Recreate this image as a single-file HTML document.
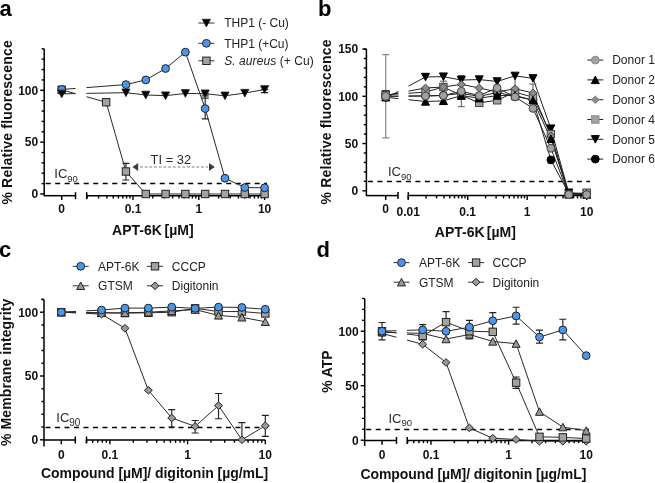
<!DOCTYPE html><html><head><meta charset="utf-8"><style>html,body{margin:0;padding:0;background:#fff;}svg{display:block;will-change:transform;}</style></head><body><svg width="655" height="483" viewBox="0 0 655 483">
<rect width="655" height="483" fill="#fff"/>
<defs><clipPath id="ca"><rect x="0" y="0" width="75.5" height="483"/><rect x="86.5" y="0" width="570" height="483"/></clipPath><clipPath id="cb"><rect x="0" y="0" width="398.5" height="483"/><rect x="408.5" y="0" width="300" height="483"/></clipPath><clipPath id="cc"><rect x="0" y="0" width="76" height="483"/><rect x="86.2" y="0" width="570" height="483"/></clipPath><clipPath id="cd"><rect x="0" y="0" width="396.5" height="483"/><rect x="407" y="0" width="300" height="483"/></clipPath></defs>
<text x="-0.6" y="16" font-family='"Liberation Sans", sans-serif' font-weight="bold" font-size="22" fill="#000">a</text>
<line x1="44.2" y1="48.82" x2="44.2" y2="196.2" stroke="#000" stroke-width="1.5"/>
<line x1="40.2" y1="194" x2="44.2" y2="194" stroke="#000" stroke-width="1.4"/>
<text x="38.2" y="198.3" text-anchor="end" font-family='"Liberation Sans", sans-serif' font-weight="bold" font-size="12" fill="#111">0</text>
<line x1="40.2" y1="142.15" x2="44.2" y2="142.15" stroke="#000" stroke-width="1.4"/>
<text x="38.2" y="146.45" text-anchor="end" font-family='"Liberation Sans", sans-serif' font-weight="bold" font-size="12" fill="#111">50</text>
<line x1="40.2" y1="90.3" x2="44.2" y2="90.3" stroke="#000" stroke-width="1.4"/>
<text x="38.2" y="94.6" text-anchor="end" font-family='"Liberation Sans", sans-serif' font-weight="bold" font-size="12" fill="#111">100</text>
<line x1="41.6" y1="183.63" x2="44.2" y2="183.63" stroke="#000" stroke-width="1.4"/>
<line x1="41.6" y1="173.26" x2="44.2" y2="173.26" stroke="#000" stroke-width="1.4"/>
<line x1="41.6" y1="162.89" x2="44.2" y2="162.89" stroke="#000" stroke-width="1.4"/>
<line x1="41.6" y1="152.52" x2="44.2" y2="152.52" stroke="#000" stroke-width="1.4"/>
<line x1="41.6" y1="131.78" x2="44.2" y2="131.78" stroke="#000" stroke-width="1.4"/>
<line x1="41.6" y1="121.41" x2="44.2" y2="121.41" stroke="#000" stroke-width="1.4"/>
<line x1="41.6" y1="111.04" x2="44.2" y2="111.04" stroke="#000" stroke-width="1.4"/>
<line x1="41.6" y1="100.67" x2="44.2" y2="100.67" stroke="#000" stroke-width="1.4"/>
<line x1="41.6" y1="79.93" x2="44.2" y2="79.93" stroke="#000" stroke-width="1.4"/>
<line x1="41.6" y1="69.56" x2="44.2" y2="69.56" stroke="#000" stroke-width="1.4"/>
<line x1="41.6" y1="59.19" x2="44.2" y2="59.19" stroke="#000" stroke-width="1.4"/>
<line x1="41.6" y1="48.82" x2="44.2" y2="48.82" stroke="#000" stroke-width="1.4"/>
<line x1="44.2" y1="195.7" x2="75.5" y2="195.7" stroke="#000" stroke-width="1.5"/>
<line x1="75.5" y1="192.2" x2="75.5" y2="199.2" stroke="#000" stroke-width="1.5"/>
<line x1="61.7" y1="195.7" x2="61.7" y2="200" stroke="#000" stroke-width="1.5"/>
<text x="61.7" y="213.3" text-anchor="middle" font-family='"Liberation Sans", sans-serif' font-weight="bold" font-size="12" fill="#111">0</text>
<line x1="86.7" y1="195.7" x2="264.6" y2="195.7" stroke="#000" stroke-width="1.5"/>
<line x1="86.7" y1="192.2" x2="86.7" y2="199.2" stroke="#000" stroke-width="1.5"/>
<line x1="87.01" y1="195.7" x2="87.01" y2="198.5" stroke="#000" stroke-width="1.4"/>
<line x1="98.59" y1="195.7" x2="98.59" y2="198.5" stroke="#000" stroke-width="1.4"/>
<line x1="106.82" y1="195.7" x2="106.82" y2="198.5" stroke="#000" stroke-width="1.4"/>
<line x1="113.19" y1="195.7" x2="113.19" y2="198.5" stroke="#000" stroke-width="1.4"/>
<line x1="118.4" y1="195.7" x2="118.4" y2="198.5" stroke="#000" stroke-width="1.4"/>
<line x1="122.81" y1="195.7" x2="122.81" y2="198.5" stroke="#000" stroke-width="1.4"/>
<line x1="126.62" y1="195.7" x2="126.62" y2="198.5" stroke="#000" stroke-width="1.4"/>
<line x1="129.99" y1="195.7" x2="129.99" y2="198.5" stroke="#000" stroke-width="1.4"/>
<line x1="133" y1="195.7" x2="133" y2="200" stroke="#000" stroke-width="1.4"/>
<line x1="152.81" y1="195.7" x2="152.81" y2="198.5" stroke="#000" stroke-width="1.4"/>
<line x1="164.39" y1="195.7" x2="164.39" y2="198.5" stroke="#000" stroke-width="1.4"/>
<line x1="172.62" y1="195.7" x2="172.62" y2="198.5" stroke="#000" stroke-width="1.4"/>
<line x1="178.99" y1="195.7" x2="178.99" y2="198.5" stroke="#000" stroke-width="1.4"/>
<line x1="184.2" y1="195.7" x2="184.2" y2="198.5" stroke="#000" stroke-width="1.4"/>
<line x1="188.61" y1="195.7" x2="188.61" y2="198.5" stroke="#000" stroke-width="1.4"/>
<line x1="192.42" y1="195.7" x2="192.42" y2="198.5" stroke="#000" stroke-width="1.4"/>
<line x1="195.79" y1="195.7" x2="195.79" y2="198.5" stroke="#000" stroke-width="1.4"/>
<line x1="198.8" y1="195.7" x2="198.8" y2="200" stroke="#000" stroke-width="1.4"/>
<line x1="218.61" y1="195.7" x2="218.61" y2="198.5" stroke="#000" stroke-width="1.4"/>
<line x1="230.19" y1="195.7" x2="230.19" y2="198.5" stroke="#000" stroke-width="1.4"/>
<line x1="238.42" y1="195.7" x2="238.42" y2="198.5" stroke="#000" stroke-width="1.4"/>
<line x1="244.79" y1="195.7" x2="244.79" y2="198.5" stroke="#000" stroke-width="1.4"/>
<line x1="250" y1="195.7" x2="250" y2="198.5" stroke="#000" stroke-width="1.4"/>
<line x1="254.41" y1="195.7" x2="254.41" y2="198.5" stroke="#000" stroke-width="1.4"/>
<line x1="258.22" y1="195.7" x2="258.22" y2="198.5" stroke="#000" stroke-width="1.4"/>
<line x1="261.59" y1="195.7" x2="261.59" y2="198.5" stroke="#000" stroke-width="1.4"/>
<line x1="264.6" y1="195.7" x2="264.6" y2="200" stroke="#000" stroke-width="1.4"/>
<text x="133" y="213.3" text-anchor="middle" font-family='"Liberation Sans", sans-serif' font-weight="bold" font-size="12" fill="#111">0.1</text>
<text x="198.8" y="213.3" text-anchor="middle" font-family='"Liberation Sans", sans-serif' font-weight="bold" font-size="12" fill="#111">1</text>
<text x="264.6" y="213.3" text-anchor="middle" font-family='"Liberation Sans", sans-serif' font-weight="bold" font-size="12" fill="#111">10</text>
<text transform="translate(11.8,204.6) rotate(-90)" x="0" y="0" font-family='"Liberation Sans", sans-serif' font-weight="bold" font-size="14" fill="#111" textLength="164.4" lengthAdjust="spacing">% Relative fluorescence</text>
<text x="112.1" y="234.8" font-family='"Liberation Sans", sans-serif' font-weight="bold" font-size="14" fill="#111">APT-6K</text>
<text x="164.6" y="234.8" font-family='"Liberation Sans", sans-serif' font-weight="bold" font-size="14" fill="#111">[µM]</text>
<line x1="45.7" y1="183.5" x2="267" y2="183.5" stroke="#000" stroke-width="1.4" stroke-dasharray="5 4.5"/>
<text x="54.3" y="178.2" font-family='"Liberation Sans", sans-serif' font-size="13" fill="#2a2a2a">IC<tspan font-size="9.5" dy="3.6">90</tspan></text>
<path d="M61.7 93.83L125.95 92.69L145.75 94.97L165.56 95.69L185.37 93.41L205.18 93.72L224.98 95.8L244.79 93.1L264.6 89.47" fill="none" stroke="#2a2a2a" stroke-width="1.0" clip-path="url(#ca)"/>
<path d="M205.18 93.72V95.8M201.68 93.72H208.68M201.68 95.8H208.68" stroke="#222" stroke-width="1.15" fill="none"/>
<path d="M264.6 89.47V92.58M261.1 89.47H268.1M261.1 92.58H268.1" stroke="#222" stroke-width="1.15" fill="none"/>
<path d="M61.7 89.47L125.95 84.6L145.75 79.93L165.56 68.52L185.37 52.14L205.18 108.55L224.98 178.24L244.79 187.57L264.6 187.78" fill="none" stroke="#2a2a2a" stroke-width="1.0" clip-path="url(#ca)"/>
<path d="M205.18 98.08V118.92M201.68 98.08H208.68M201.68 118.92H208.68" stroke="#222" stroke-width="1.15" fill="none"/>
<path d="M244.79 185.7V189.85M241.29 185.7H248.29M241.29 189.85H248.29" stroke="#222" stroke-width="1.15" fill="none"/>
<path d="M61.7 89.78L106.14 102.23L125.95 171.5L145.75 194L165.56 194L185.37 194L205.18 194L224.98 194L244.79 194L264.6 194" fill="none" stroke="#2a2a2a" stroke-width="1.0" clip-path="url(#ca)"/>
<path d="M125.95 163.41V180M122.45 163.41H129.45M122.45 180H129.45" stroke="#222" stroke-width="1.15" fill="none"/>
<line x1="140" y1="167" x2="208" y2="167" stroke="#a8a8a8" stroke-width="1.7" stroke-dasharray="2.8 1.9"/>
<path d="M132.4 167L138.2 163.1L138.2 170.9Z" fill="#3a3a3a"/>
<path d="M214.8 167L209 163.1L209 170.9Z" fill="#3a3a3a"/>
<text x="150.6" y="164.2" font-family='"Liberation Sans", sans-serif' font-size="12.9" fill="#2a2a2a">TI = 32</text>
<rect x="58" y="86.08" width="7.4" height="7.4" fill="#a2a2a2" stroke="#222" stroke-width="1.0"/>
<rect x="102.44" y="98.53" width="7.4" height="7.4" fill="#a2a2a2" stroke="#222" stroke-width="1.0"/>
<rect x="122.25" y="167.8" width="7.4" height="7.4" fill="#a2a2a2" stroke="#222" stroke-width="1.0"/>
<rect x="142.05" y="190.3" width="7.4" height="7.4" fill="#a2a2a2" stroke="#222" stroke-width="1.0"/>
<rect x="161.86" y="190.3" width="7.4" height="7.4" fill="#a2a2a2" stroke="#222" stroke-width="1.0"/>
<rect x="181.67" y="190.3" width="7.4" height="7.4" fill="#a2a2a2" stroke="#222" stroke-width="1.0"/>
<rect x="201.48" y="190.3" width="7.4" height="7.4" fill="#a2a2a2" stroke="#222" stroke-width="1.0"/>
<rect x="221.28" y="190.3" width="7.4" height="7.4" fill="#a2a2a2" stroke="#222" stroke-width="1.0"/>
<rect x="241.09" y="190.3" width="7.4" height="7.4" fill="#a2a2a2" stroke="#222" stroke-width="1.0"/>
<rect x="260.9" y="190.3" width="7.4" height="7.4" fill="#a2a2a2" stroke="#222" stroke-width="1.0"/>
<circle cx="61.7" cy="89.47" r="3.9" fill="#4b97ee" stroke="#222" stroke-width="1.0"/>
<circle cx="125.95" cy="84.6" r="3.9" fill="#4b97ee" stroke="#222" stroke-width="1.0"/>
<circle cx="145.75" cy="79.93" r="3.9" fill="#4b97ee" stroke="#222" stroke-width="1.0"/>
<circle cx="165.56" cy="68.52" r="3.9" fill="#4b97ee" stroke="#222" stroke-width="1.0"/>
<circle cx="185.37" cy="52.14" r="3.9" fill="#4b97ee" stroke="#222" stroke-width="1.0"/>
<circle cx="205.18" cy="108.55" r="3.9" fill="#4b97ee" stroke="#222" stroke-width="1.0"/>
<circle cx="224.98" cy="178.24" r="3.9" fill="#4b97ee" stroke="#222" stroke-width="1.0"/>
<circle cx="244.79" cy="187.57" r="3.9" fill="#4b97ee" stroke="#222" stroke-width="1.0"/>
<circle cx="264.6" cy="187.78" r="3.9" fill="#4b97ee" stroke="#222" stroke-width="1.0"/>
<path d="M57.7 90.13L65.7 90.13L61.7 97.63Z" fill="#000" stroke="#222" stroke-width="1.0" stroke-linejoin="miter"/>
<path d="M121.95 88.99L129.95 88.99L125.95 96.49Z" fill="#000" stroke="#222" stroke-width="1.0" stroke-linejoin="miter"/>
<path d="M141.75 91.27L149.75 91.27L145.75 98.77Z" fill="#000" stroke="#222" stroke-width="1.0" stroke-linejoin="miter"/>
<path d="M161.56 91.99L169.56 91.99L165.56 99.49Z" fill="#000" stroke="#222" stroke-width="1.0" stroke-linejoin="miter"/>
<path d="M181.37 89.71L189.37 89.71L185.37 97.21Z" fill="#000" stroke="#222" stroke-width="1.0" stroke-linejoin="miter"/>
<path d="M201.18 90.02L209.18 90.02L205.18 97.52Z" fill="#000" stroke="#222" stroke-width="1.0" stroke-linejoin="miter"/>
<path d="M220.98 92.1L228.98 92.1L224.98 99.6Z" fill="#000" stroke="#222" stroke-width="1.0" stroke-linejoin="miter"/>
<path d="M240.79 89.4L248.79 89.4L244.79 96.9Z" fill="#000" stroke="#222" stroke-width="1.0" stroke-linejoin="miter"/>
<path d="M260.6 85.77L268.6 85.77L264.6 93.27Z" fill="#000" stroke="#222" stroke-width="1.0" stroke-linejoin="miter"/>
<line x1="198.4" y1="23" x2="214.4" y2="23" stroke="#333" stroke-width="1"/>
<path d="M202.4 19.3L210.4 19.3L206.4 26.8Z" fill="#000" stroke="#222" stroke-width="1.0" stroke-linejoin="miter"/>
<text x="224.2" y="27.3" font-family='"Liberation Sans", sans-serif' font-size="12" fill="#222">THP1 (- Cu)</text>
<line x1="198.4" y1="43.3" x2="214.4" y2="43.3" stroke="#333" stroke-width="1"/>
<circle cx="206.4" cy="43.3" r="3.9" fill="#4b97ee" stroke="#222" stroke-width="1.0"/>
<text x="224.2" y="47.6" font-family='"Liberation Sans", sans-serif' font-size="12" fill="#222">THP1 (+Cu)</text>
<line x1="198.4" y1="60.8" x2="214.4" y2="60.8" stroke="#333" stroke-width="1"/>
<rect x="202.7" y="57.1" width="7.4" height="7.4" fill="#a2a2a2" stroke="#222" stroke-width="1.0"/>
<text x="224.2" y="65.1" font-family='"Liberation Sans", sans-serif' font-size="12" fill="#222" textLength="89.5" lengthAdjust="spacing"><tspan font-style="italic">S. aureus</tspan> (+ Cu)</text>
<text x="318" y="16" font-family='"Liberation Sans", sans-serif' font-weight="bold" font-size="22" fill="#000">b</text>
<line x1="366.4" y1="49.05" x2="366.4" y2="196.1" stroke="#000" stroke-width="1.5"/>
<line x1="362.4" y1="190.8" x2="366.4" y2="190.8" stroke="#000" stroke-width="1.4"/>
<text x="358.2" y="195.1" text-anchor="end" font-family='"Liberation Sans", sans-serif' font-weight="bold" font-size="12" fill="#111">0</text>
<line x1="362.4" y1="143.55" x2="366.4" y2="143.55" stroke="#000" stroke-width="1.4"/>
<text x="358.2" y="147.85" text-anchor="end" font-family='"Liberation Sans", sans-serif' font-weight="bold" font-size="12" fill="#111">50</text>
<line x1="362.4" y1="96.3" x2="366.4" y2="96.3" stroke="#000" stroke-width="1.4"/>
<text x="358.2" y="100.6" text-anchor="end" font-family='"Liberation Sans", sans-serif' font-weight="bold" font-size="12" fill="#111">100</text>
<line x1="362.4" y1="49.05" x2="366.4" y2="49.05" stroke="#000" stroke-width="1.4"/>
<text x="358.2" y="53.35" text-anchor="end" font-family='"Liberation Sans", sans-serif' font-weight="bold" font-size="12" fill="#111">150</text>
<line x1="363.8" y1="181.35" x2="366.4" y2="181.35" stroke="#000" stroke-width="1.4"/>
<line x1="363.8" y1="171.9" x2="366.4" y2="171.9" stroke="#000" stroke-width="1.4"/>
<line x1="363.8" y1="162.45" x2="366.4" y2="162.45" stroke="#000" stroke-width="1.4"/>
<line x1="363.8" y1="153" x2="366.4" y2="153" stroke="#000" stroke-width="1.4"/>
<line x1="363.8" y1="134.1" x2="366.4" y2="134.1" stroke="#000" stroke-width="1.4"/>
<line x1="363.8" y1="124.65" x2="366.4" y2="124.65" stroke="#000" stroke-width="1.4"/>
<line x1="363.8" y1="115.2" x2="366.4" y2="115.2" stroke="#000" stroke-width="1.4"/>
<line x1="363.8" y1="105.75" x2="366.4" y2="105.75" stroke="#000" stroke-width="1.4"/>
<line x1="363.8" y1="86.85" x2="366.4" y2="86.85" stroke="#000" stroke-width="1.4"/>
<line x1="363.8" y1="77.4" x2="366.4" y2="77.4" stroke="#000" stroke-width="1.4"/>
<line x1="363.8" y1="67.95" x2="366.4" y2="67.95" stroke="#000" stroke-width="1.4"/>
<line x1="363.8" y1="58.5" x2="366.4" y2="58.5" stroke="#000" stroke-width="1.4"/>
<line x1="363.8" y1="49.05" x2="366.4" y2="49.05" stroke="#000" stroke-width="1.4"/>
<line x1="366.4" y1="195.6" x2="398" y2="195.6" stroke="#000" stroke-width="1.5"/>
<line x1="398" y1="192.1" x2="398" y2="199.1" stroke="#000" stroke-width="1.5"/>
<line x1="385.7" y1="195.6" x2="385.7" y2="199.9" stroke="#000" stroke-width="1.5"/>
<text x="385.7" y="213.4" text-anchor="middle" font-family='"Liberation Sans", sans-serif' font-weight="bold" font-size="12" fill="#111">0</text>
<line x1="408.3" y1="195.6" x2="586.7" y2="195.6" stroke="#000" stroke-width="1.5"/>
<line x1="408.3" y1="192.1" x2="408.3" y2="199.1" stroke="#000" stroke-width="1.5"/>
<line x1="408.2" y1="195.6" x2="408.2" y2="199.9" stroke="#000" stroke-width="1.4"/>
<line x1="426.11" y1="195.6" x2="426.11" y2="198.4" stroke="#000" stroke-width="1.4"/>
<line x1="436.59" y1="195.6" x2="436.59" y2="198.4" stroke="#000" stroke-width="1.4"/>
<line x1="444.02" y1="195.6" x2="444.02" y2="198.4" stroke="#000" stroke-width="1.4"/>
<line x1="449.79" y1="195.6" x2="449.79" y2="198.4" stroke="#000" stroke-width="1.4"/>
<line x1="454.5" y1="195.6" x2="454.5" y2="198.4" stroke="#000" stroke-width="1.4"/>
<line x1="458.48" y1="195.6" x2="458.48" y2="198.4" stroke="#000" stroke-width="1.4"/>
<line x1="461.93" y1="195.6" x2="461.93" y2="198.4" stroke="#000" stroke-width="1.4"/>
<line x1="464.98" y1="195.6" x2="464.98" y2="198.4" stroke="#000" stroke-width="1.4"/>
<line x1="467.7" y1="195.6" x2="467.7" y2="199.9" stroke="#000" stroke-width="1.4"/>
<line x1="485.61" y1="195.6" x2="485.61" y2="198.4" stroke="#000" stroke-width="1.4"/>
<line x1="496.09" y1="195.6" x2="496.09" y2="198.4" stroke="#000" stroke-width="1.4"/>
<line x1="503.52" y1="195.6" x2="503.52" y2="198.4" stroke="#000" stroke-width="1.4"/>
<line x1="509.29" y1="195.6" x2="509.29" y2="198.4" stroke="#000" stroke-width="1.4"/>
<line x1="514" y1="195.6" x2="514" y2="198.4" stroke="#000" stroke-width="1.4"/>
<line x1="517.98" y1="195.6" x2="517.98" y2="198.4" stroke="#000" stroke-width="1.4"/>
<line x1="521.43" y1="195.6" x2="521.43" y2="198.4" stroke="#000" stroke-width="1.4"/>
<line x1="524.48" y1="195.6" x2="524.48" y2="198.4" stroke="#000" stroke-width="1.4"/>
<line x1="527.2" y1="195.6" x2="527.2" y2="199.9" stroke="#000" stroke-width="1.4"/>
<line x1="545.11" y1="195.6" x2="545.11" y2="198.4" stroke="#000" stroke-width="1.4"/>
<line x1="555.59" y1="195.6" x2="555.59" y2="198.4" stroke="#000" stroke-width="1.4"/>
<line x1="563.02" y1="195.6" x2="563.02" y2="198.4" stroke="#000" stroke-width="1.4"/>
<line x1="568.79" y1="195.6" x2="568.79" y2="198.4" stroke="#000" stroke-width="1.4"/>
<line x1="573.5" y1="195.6" x2="573.5" y2="198.4" stroke="#000" stroke-width="1.4"/>
<line x1="577.48" y1="195.6" x2="577.48" y2="198.4" stroke="#000" stroke-width="1.4"/>
<line x1="580.93" y1="195.6" x2="580.93" y2="198.4" stroke="#000" stroke-width="1.4"/>
<line x1="583.98" y1="195.6" x2="583.98" y2="198.4" stroke="#000" stroke-width="1.4"/>
<line x1="586.7" y1="195.6" x2="586.7" y2="199.9" stroke="#000" stroke-width="1.4"/>
<text x="408.2" y="216.2" text-anchor="middle" font-family='"Liberation Sans", sans-serif' font-weight="bold" font-size="12" fill="#111">0.01</text>
<text x="467.7" y="216" text-anchor="middle" font-family='"Liberation Sans", sans-serif' font-weight="bold" font-size="12" fill="#111">0.1</text>
<text x="527.2" y="216" text-anchor="middle" font-family='"Liberation Sans", sans-serif' font-weight="bold" font-size="12" fill="#111">1</text>
<text x="586.7" y="216" text-anchor="middle" font-family='"Liberation Sans", sans-serif' font-weight="bold" font-size="12" fill="#111">10</text>
<text transform="translate(330.8,204.5) rotate(-90)" x="0" y="0" font-family='"Liberation Sans", sans-serif' font-weight="bold" font-size="14" fill="#111" textLength="165" lengthAdjust="spacing">% Relative fluorescence</text>
<text x="434.8" y="236.5" font-family='"Liberation Sans", sans-serif' font-weight="bold" font-size="14" fill="#111">APT-6K</text>
<text x="486.8" y="236.5" font-family='"Liberation Sans", sans-serif' font-weight="bold" font-size="14" fill="#111">[µM]</text>
<line x1="367.9" y1="181.5" x2="590" y2="181.5" stroke="#000" stroke-width="1.4" stroke-dasharray="5 4.5"/>
<text x="388" y="176.2" font-family='"Liberation Sans", sans-serif' font-size="13" fill="#2a2a2a">IC<tspan font-size="9.5" dy="3.6">90</tspan></text>
<path d="M385.7 96.3L425.5 95.83L443.41 95.36L461.32 93.47L479.23 96.3L497.14 92.52L515.05 96.3L532.97 100.08L550.88 159.9L568.79 193.64L586.7 193.64" fill="none" stroke="#222" stroke-width="1.0" clip-path="url(#cb)"/>
<path d="M385.7 98.19L425.5 77.02L443.41 76.64L461.32 80.05L479.23 79.57L497.14 81.46L515.05 75.89L532.97 78.35L550.88 128.62L568.79 192.69L586.7 193.64" fill="none" stroke="#222" stroke-width="1.0" clip-path="url(#cb)"/>
<path d="M385.7 94.88L425.5 92.05L443.41 87.04L461.32 95.36L479.23 102.82L497.14 100.27L515.05 92.05L532.97 97.25L550.88 134.1L568.79 194.58L586.7 192.69" fill="none" stroke="#222" stroke-width="1.0" clip-path="url(#cb)"/>
<path d="M385.7 95.36L425.5 87.98L443.41 87.04L461.32 84.39L479.23 87.98L497.14 92.05L515.05 88.74L532.97 92.99L550.88 135.99L568.79 193.64L586.7 193.64" fill="none" stroke="#222" stroke-width="1.0" clip-path="url(#cb)"/>
<path d="M385.7 97.25L425.5 101.5L443.41 100.84L461.32 95.54L479.23 98.19L497.14 95.54L515.05 95.36L532.97 100.27L550.88 138.83L568.79 193.64L586.7 194.58" fill="none" stroke="#222" stroke-width="1.0" clip-path="url(#cb)"/>
<path d="M385.7 96.3L425.5 96.02L443.41 95.54L461.32 91.29L479.23 95.54L497.14 87.98L515.05 96.96L532.97 108.4L550.88 148.28L568.79 194.58L586.7 194.58" fill="none" stroke="#222" stroke-width="1.0" clip-path="url(#cb)"/>
<path d="M385.7 54.72V137.88M382.2 54.72H389.2M382.2 137.88H389.2" stroke="#888" stroke-width="1.2" fill="none"/>
<path d="M461.32 75.51V106.7M457.82 75.51H464.82M457.82 106.7H464.82" stroke="#555" stroke-width="1" fill="none"/>
<path d="M515.05 76.46V100.08M511.55 76.46H518.55M511.55 100.08H518.55" stroke="#555" stroke-width="1" fill="none"/>
<path d="M497.14 91.58V101.03M493.64 91.58H500.64M493.64 101.03H500.64" stroke="#555" stroke-width="1" fill="none"/>
<path d="M443.41 81.18V92.52M439.91 81.18H446.91M439.91 92.52H446.91" stroke="#555" stroke-width="1" fill="none"/>
<path d="M532.97 84.02V98.19M529.47 84.02H536.47M529.47 98.19H536.47" stroke="#555" stroke-width="1" fill="none"/>
<circle cx="385.7" cy="96.3" r="3.9" fill="#000" stroke="#000" stroke-width="1.0"/>
<circle cx="425.5" cy="95.83" r="3.9" fill="#000" stroke="#000" stroke-width="1.0"/>
<circle cx="443.41" cy="95.36" r="3.9" fill="#000" stroke="#000" stroke-width="1.0"/>
<circle cx="461.32" cy="93.47" r="3.9" fill="#000" stroke="#000" stroke-width="1.0"/>
<circle cx="479.23" cy="96.3" r="3.9" fill="#000" stroke="#000" stroke-width="1.0"/>
<circle cx="497.14" cy="92.52" r="3.9" fill="#000" stroke="#000" stroke-width="1.0"/>
<circle cx="515.05" cy="96.3" r="3.9" fill="#000" stroke="#000" stroke-width="1.0"/>
<circle cx="532.97" cy="100.08" r="3.9" fill="#000" stroke="#000" stroke-width="1.0"/>
<circle cx="550.88" cy="159.9" r="3.9" fill="#000" stroke="#000" stroke-width="1.0"/>
<circle cx="568.79" cy="193.64" r="3.9" fill="#000" stroke="#000" stroke-width="1.0"/>
<circle cx="586.7" cy="193.64" r="3.9" fill="#000" stroke="#000" stroke-width="1.0"/>
<path d="M381.7 94.49L389.7 94.49L385.7 101.99Z" fill="#000" stroke="#000" stroke-width="1.0" stroke-linejoin="miter"/>
<path d="M421.5 73.32L429.5 73.32L425.5 80.82Z" fill="#000" stroke="#000" stroke-width="1.0" stroke-linejoin="miter"/>
<path d="M439.41 72.94L447.41 72.94L443.41 80.44Z" fill="#000" stroke="#000" stroke-width="1.0" stroke-linejoin="miter"/>
<path d="M457.32 76.35L465.32 76.35L461.32 83.85Z" fill="#000" stroke="#000" stroke-width="1.0" stroke-linejoin="miter"/>
<path d="M475.23 75.87L483.23 75.87L479.23 83.37Z" fill="#000" stroke="#000" stroke-width="1.0" stroke-linejoin="miter"/>
<path d="M493.14 77.76L501.14 77.76L497.14 85.26Z" fill="#000" stroke="#000" stroke-width="1.0" stroke-linejoin="miter"/>
<path d="M511.05 72.19L519.05 72.19L515.05 79.69Z" fill="#000" stroke="#000" stroke-width="1.0" stroke-linejoin="miter"/>
<path d="M528.97 74.65L536.97 74.65L532.97 82.15Z" fill="#000" stroke="#000" stroke-width="1.0" stroke-linejoin="miter"/>
<path d="M546.88 124.92L554.88 124.92L550.88 132.42Z" fill="#000" stroke="#000" stroke-width="1.0" stroke-linejoin="miter"/>
<path d="M564.79 188.99L572.79 188.99L568.79 196.49Z" fill="#000" stroke="#000" stroke-width="1.0" stroke-linejoin="miter"/>
<path d="M582.7 189.94L590.7 189.94L586.7 197.44Z" fill="#000" stroke="#000" stroke-width="1.0" stroke-linejoin="miter"/>
<rect x="382" y="91.18" width="7.4" height="7.4" fill="#a2a2a2" stroke="#444" stroke-width="1.0"/>
<rect x="421.8" y="88.35" width="7.4" height="7.4" fill="#a2a2a2" stroke="#444" stroke-width="1.0"/>
<rect x="439.71" y="83.34" width="7.4" height="7.4" fill="#a2a2a2" stroke="#444" stroke-width="1.0"/>
<rect x="457.62" y="91.66" width="7.4" height="7.4" fill="#a2a2a2" stroke="#444" stroke-width="1.0"/>
<rect x="475.53" y="99.12" width="7.4" height="7.4" fill="#a2a2a2" stroke="#444" stroke-width="1.0"/>
<rect x="493.44" y="96.57" width="7.4" height="7.4" fill="#a2a2a2" stroke="#444" stroke-width="1.0"/>
<rect x="511.35" y="88.35" width="7.4" height="7.4" fill="#a2a2a2" stroke="#444" stroke-width="1.0"/>
<rect x="529.27" y="93.55" width="7.4" height="7.4" fill="#a2a2a2" stroke="#444" stroke-width="1.0"/>
<rect x="547.18" y="130.4" width="7.4" height="7.4" fill="#a2a2a2" stroke="#444" stroke-width="1.0"/>
<rect x="565.09" y="190.88" width="7.4" height="7.4" fill="#a2a2a2" stroke="#444" stroke-width="1.0"/>
<rect x="583" y="188.99" width="7.4" height="7.4" fill="#a2a2a2" stroke="#444" stroke-width="1.0"/>
<path d="M385.7 91.56L389.7 95.36L385.7 99.16L381.7 95.36Z" fill="#8c8c8c" stroke="#444" stroke-width="1.0"/>
<path d="M425.5 84.18L429.5 87.98L425.5 91.78L421.5 87.98Z" fill="#8c8c8c" stroke="#444" stroke-width="1.0"/>
<path d="M443.41 83.24L447.41 87.04L443.41 90.84L439.41 87.04Z" fill="#8c8c8c" stroke="#444" stroke-width="1.0"/>
<path d="M461.32 80.59L465.32 84.39L461.32 88.19L457.32 84.39Z" fill="#8c8c8c" stroke="#444" stroke-width="1.0"/>
<path d="M479.23 84.18L483.23 87.98L479.23 91.78L475.23 87.98Z" fill="#8c8c8c" stroke="#444" stroke-width="1.0"/>
<path d="M497.14 88.25L501.14 92.05L497.14 95.85L493.14 92.05Z" fill="#8c8c8c" stroke="#444" stroke-width="1.0"/>
<path d="M515.05 84.94L519.05 88.74L515.05 92.54L511.05 88.74Z" fill="#8c8c8c" stroke="#444" stroke-width="1.0"/>
<path d="M532.97 89.19L536.97 92.99L532.97 96.79L528.97 92.99Z" fill="#8c8c8c" stroke="#444" stroke-width="1.0"/>
<path d="M550.88 132.19L554.88 135.99L550.88 139.79L546.88 135.99Z" fill="#8c8c8c" stroke="#444" stroke-width="1.0"/>
<path d="M568.79 189.84L572.79 193.64L568.79 197.44L564.79 193.64Z" fill="#8c8c8c" stroke="#444" stroke-width="1.0"/>
<path d="M586.7 189.84L590.7 193.64L586.7 197.44L582.7 193.64Z" fill="#8c8c8c" stroke="#444" stroke-width="1.0"/>
<path d="M381.7 100.95L389.7 100.95L385.7 93.45Z" fill="#000" stroke="#000" stroke-width="1.0" stroke-linejoin="miter"/>
<path d="M421.5 105.2L429.5 105.2L425.5 97.7Z" fill="#000" stroke="#000" stroke-width="1.0" stroke-linejoin="miter"/>
<path d="M439.41 104.54L447.41 104.54L443.41 97.04Z" fill="#000" stroke="#000" stroke-width="1.0" stroke-linejoin="miter"/>
<path d="M457.32 99.24L465.32 99.24L461.32 91.74Z" fill="#000" stroke="#000" stroke-width="1.0" stroke-linejoin="miter"/>
<path d="M475.23 101.89L483.23 101.89L479.23 94.39Z" fill="#000" stroke="#000" stroke-width="1.0" stroke-linejoin="miter"/>
<path d="M493.14 99.24L501.14 99.24L497.14 91.74Z" fill="#000" stroke="#000" stroke-width="1.0" stroke-linejoin="miter"/>
<path d="M511.05 99.06L519.05 99.06L515.05 91.56Z" fill="#000" stroke="#000" stroke-width="1.0" stroke-linejoin="miter"/>
<path d="M528.97 103.97L536.97 103.97L532.97 96.47Z" fill="#000" stroke="#000" stroke-width="1.0" stroke-linejoin="miter"/>
<path d="M546.88 142.53L554.88 142.53L550.88 135.03Z" fill="#000" stroke="#000" stroke-width="1.0" stroke-linejoin="miter"/>
<path d="M564.79 197.34L572.79 197.34L568.79 189.84Z" fill="#000" stroke="#000" stroke-width="1.0" stroke-linejoin="miter"/>
<path d="M582.7 198.28L590.7 198.28L586.7 190.78Z" fill="#000" stroke="#000" stroke-width="1.0" stroke-linejoin="miter"/>
<circle cx="385.7" cy="96.3" r="3.9" fill="#a2a2a2" stroke="#444" stroke-width="1.0"/>
<circle cx="425.5" cy="96.02" r="3.9" fill="#a2a2a2" stroke="#444" stroke-width="1.0"/>
<circle cx="443.41" cy="95.54" r="3.9" fill="#a2a2a2" stroke="#444" stroke-width="1.0"/>
<circle cx="461.32" cy="91.29" r="3.9" fill="#a2a2a2" stroke="#444" stroke-width="1.0"/>
<circle cx="479.23" cy="95.54" r="3.9" fill="#a2a2a2" stroke="#444" stroke-width="1.0"/>
<circle cx="497.14" cy="87.98" r="3.9" fill="#a2a2a2" stroke="#444" stroke-width="1.0"/>
<circle cx="515.05" cy="96.96" r="3.9" fill="#a2a2a2" stroke="#444" stroke-width="1.0"/>
<circle cx="532.97" cy="108.4" r="3.9" fill="#a2a2a2" stroke="#444" stroke-width="1.0"/>
<circle cx="550.88" cy="148.28" r="3.9" fill="#a2a2a2" stroke="#444" stroke-width="1.0"/>
<circle cx="568.79" cy="194.58" r="3.9" fill="#a2a2a2" stroke="#444" stroke-width="1.0"/>
<circle cx="586.7" cy="194.58" r="3.9" fill="#a2a2a2" stroke="#444" stroke-width="1.0"/>
<rect x="382" y="91.18" width="7.4" height="7.4" fill="#a2a2a2" stroke="#333" stroke-width="1.0"/>
<path d="M382.2 90.63H389.2M382.2 99.14H389.2" stroke="#333" stroke-width="1.2"/>
<circle cx="385.7" cy="96.3" r="3.9" fill="#a2a2a2" stroke="#555" stroke-width="1.0"/>
<line x1="587.3" y1="60.1" x2="603.3" y2="60.1" stroke="#222" stroke-width="1"/>
<circle cx="595.3" cy="60.1" r="3.9" fill="#a2a2a2" stroke="#888" stroke-width="1.0"/>
<text x="612.2" y="64.4" font-family='"Liberation Sans", sans-serif' font-size="12" fill="#222">Donor 1</text>
<line x1="587.3" y1="79.9" x2="603.3" y2="79.9" stroke="#222" stroke-width="1"/>
<path d="M591.3 83.6L599.3 83.6L595.3 76.1Z" fill="#000" stroke="#000" stroke-width="1.0" stroke-linejoin="miter"/>
<text x="612.2" y="84.2" font-family='"Liberation Sans", sans-serif' font-size="12" fill="#222">Donor 2</text>
<line x1="587.3" y1="99.7" x2="603.3" y2="99.7" stroke="#222" stroke-width="1"/>
<path d="M595.3 95.9L599.3 99.7L595.3 103.5L591.3 99.7Z" fill="#8c8c8c" stroke="#888" stroke-width="1.0"/>
<text x="612.2" y="104" font-family='"Liberation Sans", sans-serif' font-size="12" fill="#222">Donor 3</text>
<line x1="587.3" y1="119.5" x2="603.3" y2="119.5" stroke="#222" stroke-width="1"/>
<rect x="591.6" y="115.8" width="7.4" height="7.4" fill="#a2a2a2" stroke="#888" stroke-width="1.0"/>
<text x="612.2" y="123.8" font-family='"Liberation Sans", sans-serif' font-size="12" fill="#222">Donor 4</text>
<line x1="587.3" y1="139.3" x2="603.3" y2="139.3" stroke="#222" stroke-width="1"/>
<path d="M591.3 135.6L599.3 135.6L595.3 143.1Z" fill="#000" stroke="#000" stroke-width="1.0" stroke-linejoin="miter"/>
<text x="612.2" y="143.6" font-family='"Liberation Sans", sans-serif' font-size="12" fill="#222">Donor 5</text>
<line x1="587.3" y1="159.1" x2="603.3" y2="159.1" stroke="#222" stroke-width="1"/>
<circle cx="595.3" cy="159.1" r="3.9" fill="#000" stroke="#000" stroke-width="1.0"/>
<text x="612.2" y="163.4" font-family='"Liberation Sans", sans-serif' font-size="12" fill="#222">Donor 6</text>
<text x="-1" y="257" font-family='"Liberation Sans", sans-serif' font-weight="bold" font-size="22" fill="#000">c</text>
<line x1="44" y1="299.44" x2="44" y2="446.5" stroke="#000" stroke-width="1.5"/>
<line x1="40" y1="439.8" x2="44" y2="439.8" stroke="#000" stroke-width="1.4"/>
<text x="38.2" y="444.1" text-anchor="end" font-family='"Liberation Sans", sans-serif' font-weight="bold" font-size="12" fill="#111">0</text>
<line x1="40" y1="376" x2="44" y2="376" stroke="#000" stroke-width="1.4"/>
<text x="38.2" y="380.3" text-anchor="end" font-family='"Liberation Sans", sans-serif' font-weight="bold" font-size="12" fill="#111">50</text>
<line x1="40" y1="312.2" x2="44" y2="312.2" stroke="#000" stroke-width="1.4"/>
<text x="38.2" y="316.5" text-anchor="end" font-family='"Liberation Sans", sans-serif' font-weight="bold" font-size="12" fill="#111">100</text>
<line x1="41.4" y1="427.04" x2="44" y2="427.04" stroke="#000" stroke-width="1.4"/>
<line x1="41.4" y1="414.28" x2="44" y2="414.28" stroke="#000" stroke-width="1.4"/>
<line x1="41.4" y1="401.52" x2="44" y2="401.52" stroke="#000" stroke-width="1.4"/>
<line x1="41.4" y1="388.76" x2="44" y2="388.76" stroke="#000" stroke-width="1.4"/>
<line x1="41.4" y1="363.24" x2="44" y2="363.24" stroke="#000" stroke-width="1.4"/>
<line x1="41.4" y1="350.48" x2="44" y2="350.48" stroke="#000" stroke-width="1.4"/>
<line x1="41.4" y1="337.72" x2="44" y2="337.72" stroke="#000" stroke-width="1.4"/>
<line x1="41.4" y1="324.96" x2="44" y2="324.96" stroke="#000" stroke-width="1.4"/>
<line x1="41.4" y1="299.44" x2="44" y2="299.44" stroke="#000" stroke-width="1.4"/>
<line x1="41.4" y1="299.44" x2="44" y2="299.44" stroke="#000" stroke-width="1.4"/>
<line x1="44" y1="440" x2="75.3" y2="440" stroke="#000" stroke-width="1.5"/>
<line x1="75.3" y1="436.5" x2="75.3" y2="443.5" stroke="#000" stroke-width="1.5"/>
<line x1="61.3" y1="440" x2="61.3" y2="444.3" stroke="#000" stroke-width="1.5"/>
<text x="61.3" y="458.6" text-anchor="middle" font-family='"Liberation Sans", sans-serif' font-weight="bold" font-size="12" fill="#111">0</text>
<line x1="86.5" y1="440" x2="265.3" y2="440" stroke="#000" stroke-width="1.5"/>
<line x1="86.5" y1="436.5" x2="86.5" y2="443.5" stroke="#000" stroke-width="1.5"/>
<line x1="86.51" y1="440" x2="86.51" y2="442.8" stroke="#000" stroke-width="1.4"/>
<line x1="92.66" y1="440" x2="92.66" y2="442.8" stroke="#000" stroke-width="1.4"/>
<line x1="97.86" y1="440" x2="97.86" y2="442.8" stroke="#000" stroke-width="1.4"/>
<line x1="102.37" y1="440" x2="102.37" y2="442.8" stroke="#000" stroke-width="1.4"/>
<line x1="106.34" y1="440" x2="106.34" y2="442.8" stroke="#000" stroke-width="1.4"/>
<line x1="109.9" y1="440" x2="109.9" y2="444.3" stroke="#000" stroke-width="1.4"/>
<line x1="133.29" y1="440" x2="133.29" y2="442.8" stroke="#000" stroke-width="1.4"/>
<line x1="146.97" y1="440" x2="146.97" y2="442.8" stroke="#000" stroke-width="1.4"/>
<line x1="156.68" y1="440" x2="156.68" y2="442.8" stroke="#000" stroke-width="1.4"/>
<line x1="164.21" y1="440" x2="164.21" y2="442.8" stroke="#000" stroke-width="1.4"/>
<line x1="170.36" y1="440" x2="170.36" y2="442.8" stroke="#000" stroke-width="1.4"/>
<line x1="175.56" y1="440" x2="175.56" y2="442.8" stroke="#000" stroke-width="1.4"/>
<line x1="180.07" y1="440" x2="180.07" y2="442.8" stroke="#000" stroke-width="1.4"/>
<line x1="184.04" y1="440" x2="184.04" y2="442.8" stroke="#000" stroke-width="1.4"/>
<line x1="187.6" y1="440" x2="187.6" y2="444.3" stroke="#000" stroke-width="1.4"/>
<line x1="210.99" y1="440" x2="210.99" y2="442.8" stroke="#000" stroke-width="1.4"/>
<line x1="224.67" y1="440" x2="224.67" y2="442.8" stroke="#000" stroke-width="1.4"/>
<line x1="234.38" y1="440" x2="234.38" y2="442.8" stroke="#000" stroke-width="1.4"/>
<line x1="241.91" y1="440" x2="241.91" y2="442.8" stroke="#000" stroke-width="1.4"/>
<line x1="248.06" y1="440" x2="248.06" y2="442.8" stroke="#000" stroke-width="1.4"/>
<line x1="253.26" y1="440" x2="253.26" y2="442.8" stroke="#000" stroke-width="1.4"/>
<line x1="257.77" y1="440" x2="257.77" y2="442.8" stroke="#000" stroke-width="1.4"/>
<line x1="261.74" y1="440" x2="261.74" y2="442.8" stroke="#000" stroke-width="1.4"/>
<line x1="265.3" y1="440" x2="265.3" y2="444.3" stroke="#000" stroke-width="1.4"/>
<text x="109.9" y="458.8" text-anchor="middle" font-family='"Liberation Sans", sans-serif' font-weight="bold" font-size="12" fill="#111">0.1</text>
<text x="187.6" y="458.8" text-anchor="middle" font-family='"Liberation Sans", sans-serif' font-weight="bold" font-size="12" fill="#111">1</text>
<text x="265.3" y="458.8" text-anchor="middle" font-family='"Liberation Sans", sans-serif' font-weight="bold" font-size="12" fill="#111">10</text>
<text transform="translate(11.4,445.9) rotate(-90)" x="0" y="0" font-family='"Liberation Sans", sans-serif' font-weight="bold" font-size="14" fill="#111" textLength="147.2" lengthAdjust="spacing">% Membrane integrity</text>
<text x="41" y="478" font-family='"Liberation Sans", sans-serif' font-weight="bold" font-size="14" fill="#111" textLength="227.2" lengthAdjust="spacing">Compound [µM]/ digitonin [µg/mL]</text>
<line x1="45.5" y1="427.5" x2="268" y2="427.5" stroke="#000" stroke-width="1.4" stroke-dasharray="5 4.5"/>
<text x="56.3" y="422.2" font-family='"Liberation Sans", sans-serif' font-size="13" fill="#2a2a2a">IC<tspan font-size="10" dy="3.6">90</tspan></text>
<path d="M61.3 312.2L101.57 312.84L124.96 312.84L148.35 312.2L171.74 310.92L195.13 309.65L218.52 315.39L241.91 317.3L265.3 321.77" fill="none" stroke="#2a2a2a" stroke-width="1.0" clip-path="url(#cc)"/>
<path d="M61.3 312.2L101.57 312.84L124.96 313.09L148.35 312.84L171.74 312.2L195.13 308.37L218.52 311.56L241.91 311.56L265.3 313.48" fill="none" stroke="#2a2a2a" stroke-width="1.0" clip-path="url(#cc)"/>
<path d="M61.3 312.2L101.57 314.11L124.96 328.28L148.35 390.29L171.74 417.98L195.13 426.4L218.52 405.6L241.91 439.8L265.3 425.76" fill="none" stroke="#2a2a2a" stroke-width="1.0" clip-path="url(#cc)"/>
<path d="M171.74 409.69V427.04M168.24 409.69H175.24M168.24 427.04H175.24" stroke="#222" stroke-width="1.15" fill="none"/>
<path d="M195.13 420.53V433.04M191.63 420.53H198.63M191.63 433.04H198.63" stroke="#222" stroke-width="1.15" fill="none"/>
<path d="M218.52 393.48V418.75M215.02 393.48H222.02M215.02 418.75H222.02" stroke="#222" stroke-width="1.15" fill="none"/>
<path d="M241.91 422.57V440.44M238.41 422.57H245.41M238.41 440.44H245.41" stroke="#222" stroke-width="1.15" fill="none"/>
<path d="M265.3 415.3V436.35M261.8 415.3H268.8M261.8 436.35H268.8" stroke="#222" stroke-width="1.15" fill="none"/>
<path d="M61.3 312.2L101.57 310.03L124.96 308.12L148.35 308.12L171.74 307.1L195.13 308.37L218.52 307.1L241.91 307.48L265.3 309.27" fill="none" stroke="#2a2a2a" stroke-width="1.0" clip-path="url(#cc)"/>
<rect x="57.6" y="308.5" width="7.4" height="7.4" fill="#a2a2a2" stroke="#222" stroke-width="1.0"/>
<rect x="97.87" y="309.14" width="7.4" height="7.4" fill="#a2a2a2" stroke="#222" stroke-width="1.0"/>
<rect x="121.26" y="309.39" width="7.4" height="7.4" fill="#a2a2a2" stroke="#222" stroke-width="1.0"/>
<rect x="144.65" y="309.14" width="7.4" height="7.4" fill="#a2a2a2" stroke="#222" stroke-width="1.0"/>
<rect x="168.04" y="308.5" width="7.4" height="7.4" fill="#a2a2a2" stroke="#222" stroke-width="1.0"/>
<rect x="191.43" y="304.67" width="7.4" height="7.4" fill="#a2a2a2" stroke="#222" stroke-width="1.0"/>
<rect x="214.82" y="307.86" width="7.4" height="7.4" fill="#a2a2a2" stroke="#222" stroke-width="1.0"/>
<rect x="238.21" y="307.86" width="7.4" height="7.4" fill="#a2a2a2" stroke="#222" stroke-width="1.0"/>
<rect x="261.6" y="309.78" width="7.4" height="7.4" fill="#a2a2a2" stroke="#222" stroke-width="1.0"/>
<path d="M57.3 315.9L65.3 315.9L61.3 308.4Z" fill="#999" stroke="#222" stroke-width="1.0" stroke-linejoin="miter"/>
<path d="M97.57 316.54L105.57 316.54L101.57 309.04Z" fill="#999" stroke="#222" stroke-width="1.0" stroke-linejoin="miter"/>
<path d="M120.96 316.54L128.96 316.54L124.96 309.04Z" fill="#999" stroke="#222" stroke-width="1.0" stroke-linejoin="miter"/>
<path d="M144.35 315.9L152.35 315.9L148.35 308.4Z" fill="#999" stroke="#222" stroke-width="1.0" stroke-linejoin="miter"/>
<path d="M167.74 314.62L175.74 314.62L171.74 307.12Z" fill="#999" stroke="#222" stroke-width="1.0" stroke-linejoin="miter"/>
<path d="M191.13 313.35L199.13 313.35L195.13 305.85Z" fill="#999" stroke="#222" stroke-width="1.0" stroke-linejoin="miter"/>
<path d="M214.52 319.09L222.52 319.09L218.52 311.59Z" fill="#999" stroke="#222" stroke-width="1.0" stroke-linejoin="miter"/>
<path d="M237.91 321L245.91 321L241.91 313.5Z" fill="#999" stroke="#222" stroke-width="1.0" stroke-linejoin="miter"/>
<path d="M261.3 325.47L269.3 325.47L265.3 317.97Z" fill="#999" stroke="#222" stroke-width="1.0" stroke-linejoin="miter"/>
<path d="M61.3 308.4L65.3 312.2L61.3 316L57.3 312.2Z" fill="#999" stroke="#222" stroke-width="1.0"/>
<path d="M101.57 310.31L105.57 314.11L101.57 317.91L97.57 314.11Z" fill="#999" stroke="#222" stroke-width="1.0"/>
<path d="M124.96 324.48L128.96 328.28L124.96 332.08L120.96 328.28Z" fill="#999" stroke="#222" stroke-width="1.0"/>
<path d="M148.35 386.49L152.35 390.29L148.35 394.09L144.35 390.29Z" fill="#999" stroke="#222" stroke-width="1.0"/>
<path d="M171.74 414.18L175.74 417.98L171.74 421.78L167.74 417.98Z" fill="#999" stroke="#222" stroke-width="1.0"/>
<path d="M195.13 422.6L199.13 426.4L195.13 430.2L191.13 426.4Z" fill="#999" stroke="#222" stroke-width="1.0"/>
<path d="M218.52 401.8L222.52 405.6L218.52 409.4L214.52 405.6Z" fill="#999" stroke="#222" stroke-width="1.0"/>
<path d="M241.91 436L245.91 439.8L241.91 443.6L237.91 439.8Z" fill="#999" stroke="#222" stroke-width="1.0"/>
<path d="M265.3 421.96L269.3 425.76L265.3 429.56L261.3 425.76Z" fill="#999" stroke="#222" stroke-width="1.0"/>
<circle cx="61.3" cy="312.2" r="3.9" fill="#4b97ee" stroke="#222" stroke-width="1.0"/>
<circle cx="101.57" cy="310.03" r="3.9" fill="#4b97ee" stroke="#222" stroke-width="1.0"/>
<circle cx="124.96" cy="308.12" r="3.9" fill="#4b97ee" stroke="#222" stroke-width="1.0"/>
<circle cx="148.35" cy="308.12" r="3.9" fill="#4b97ee" stroke="#222" stroke-width="1.0"/>
<circle cx="171.74" cy="307.1" r="3.9" fill="#4b97ee" stroke="#222" stroke-width="1.0"/>
<circle cx="195.13" cy="308.37" r="3.9" fill="#4b97ee" stroke="#222" stroke-width="1.0"/>
<circle cx="218.52" cy="307.1" r="3.9" fill="#4b97ee" stroke="#222" stroke-width="1.0"/>
<circle cx="241.91" cy="307.48" r="3.9" fill="#4b97ee" stroke="#222" stroke-width="1.0"/>
<circle cx="265.3" cy="309.27" r="3.9" fill="#4b97ee" stroke="#222" stroke-width="1.0"/>
<line x1="72.7" y1="266.3" x2="88.7" y2="266.3" stroke="#333" stroke-width="1"/>
<circle cx="80.7" cy="266.3" r="3.9" fill="#4b97ee" stroke="#222" stroke-width="1.0"/>
<text x="98.1" y="270.6" font-family='"Liberation Sans", sans-serif' font-size="12" fill="#222">APT-6K</text>
<line x1="72.7" y1="285.8" x2="88.7" y2="285.8" stroke="#333" stroke-width="1"/>
<path d="M76.7 289.5L84.7 289.5L80.7 282Z" fill="#999" stroke="#222" stroke-width="1.0" stroke-linejoin="miter"/>
<text x="98.1" y="290.1" font-family='"Liberation Sans", sans-serif' font-size="12" fill="#222">GTSM</text>
<line x1="147" y1="266.3" x2="163" y2="266.3" stroke="#333" stroke-width="1"/>
<rect x="151.3" y="262.6" width="7.4" height="7.4" fill="#a2a2a2" stroke="#222" stroke-width="1.0"/>
<text x="171.8" y="270.6" font-family='"Liberation Sans", sans-serif' font-size="12" fill="#222">CCCP</text>
<line x1="147" y1="285.8" x2="163" y2="285.8" stroke="#333" stroke-width="1"/>
<path d="M155 282L159 285.8L155 289.6L151 285.8Z" fill="#999" stroke="#222" stroke-width="1.0"/>
<text x="171.8" y="290.1" font-family='"Liberation Sans", sans-serif' font-size="12" fill="#222">Digitonin</text>
<text x="316.5" y="257" font-family='"Liberation Sans", sans-serif' font-weight="bold" font-size="22" fill="#000">d</text>
<line x1="364.7" y1="298.5" x2="364.7" y2="446" stroke="#000" stroke-width="1.5"/>
<line x1="360.7" y1="440.2" x2="364.7" y2="440.2" stroke="#000" stroke-width="1.4"/>
<text x="358.6" y="444.5" text-anchor="end" font-family='"Liberation Sans", sans-serif' font-weight="bold" font-size="12" fill="#111">0</text>
<line x1="360.7" y1="385.7" x2="364.7" y2="385.7" stroke="#000" stroke-width="1.4"/>
<text x="358.6" y="390" text-anchor="end" font-family='"Liberation Sans", sans-serif' font-weight="bold" font-size="12" fill="#111">50</text>
<line x1="360.7" y1="331.2" x2="364.7" y2="331.2" stroke="#000" stroke-width="1.4"/>
<text x="358.6" y="335.5" text-anchor="end" font-family='"Liberation Sans", sans-serif' font-weight="bold" font-size="12" fill="#111">100</text>
<line x1="362.1" y1="429.3" x2="364.7" y2="429.3" stroke="#000" stroke-width="1.4"/>
<line x1="362.1" y1="418.4" x2="364.7" y2="418.4" stroke="#000" stroke-width="1.4"/>
<line x1="362.1" y1="407.5" x2="364.7" y2="407.5" stroke="#000" stroke-width="1.4"/>
<line x1="362.1" y1="396.6" x2="364.7" y2="396.6" stroke="#000" stroke-width="1.4"/>
<line x1="362.1" y1="374.8" x2="364.7" y2="374.8" stroke="#000" stroke-width="1.4"/>
<line x1="362.1" y1="363.9" x2="364.7" y2="363.9" stroke="#000" stroke-width="1.4"/>
<line x1="362.1" y1="353" x2="364.7" y2="353" stroke="#000" stroke-width="1.4"/>
<line x1="362.1" y1="342.1" x2="364.7" y2="342.1" stroke="#000" stroke-width="1.4"/>
<line x1="362.1" y1="320.3" x2="364.7" y2="320.3" stroke="#000" stroke-width="1.4"/>
<line x1="362.1" y1="309.4" x2="364.7" y2="309.4" stroke="#000" stroke-width="1.4"/>
<line x1="362.1" y1="298.5" x2="364.7" y2="298.5" stroke="#000" stroke-width="1.4"/>
<line x1="364.7" y1="440.4" x2="396.5" y2="440.4" stroke="#000" stroke-width="1.5"/>
<line x1="396.5" y1="436.9" x2="396.5" y2="443.9" stroke="#000" stroke-width="1.5"/>
<line x1="382" y1="440.4" x2="382" y2="444.7" stroke="#000" stroke-width="1.5"/>
<text x="382" y="459" text-anchor="middle" font-family='"Liberation Sans", sans-serif' font-weight="bold" font-size="12" fill="#111">0</text>
<line x1="407.2" y1="440.4" x2="586.2" y2="440.4" stroke="#000" stroke-width="1.5"/>
<line x1="407.2" y1="436.9" x2="407.2" y2="443.9" stroke="#000" stroke-width="1.5"/>
<line x1="407.64" y1="440.4" x2="407.64" y2="443.2" stroke="#000" stroke-width="1.4"/>
<line x1="413.78" y1="440.4" x2="413.78" y2="443.2" stroke="#000" stroke-width="1.4"/>
<line x1="418.98" y1="440.4" x2="418.98" y2="443.2" stroke="#000" stroke-width="1.4"/>
<line x1="423.48" y1="440.4" x2="423.48" y2="443.2" stroke="#000" stroke-width="1.4"/>
<line x1="427.45" y1="440.4" x2="427.45" y2="443.2" stroke="#000" stroke-width="1.4"/>
<line x1="431" y1="440.4" x2="431" y2="444.7" stroke="#000" stroke-width="1.4"/>
<line x1="454.36" y1="440.4" x2="454.36" y2="443.2" stroke="#000" stroke-width="1.4"/>
<line x1="468.02" y1="440.4" x2="468.02" y2="443.2" stroke="#000" stroke-width="1.4"/>
<line x1="477.72" y1="440.4" x2="477.72" y2="443.2" stroke="#000" stroke-width="1.4"/>
<line x1="485.24" y1="440.4" x2="485.24" y2="443.2" stroke="#000" stroke-width="1.4"/>
<line x1="491.38" y1="440.4" x2="491.38" y2="443.2" stroke="#000" stroke-width="1.4"/>
<line x1="496.58" y1="440.4" x2="496.58" y2="443.2" stroke="#000" stroke-width="1.4"/>
<line x1="501.08" y1="440.4" x2="501.08" y2="443.2" stroke="#000" stroke-width="1.4"/>
<line x1="505.05" y1="440.4" x2="505.05" y2="443.2" stroke="#000" stroke-width="1.4"/>
<line x1="508.6" y1="440.4" x2="508.6" y2="444.7" stroke="#000" stroke-width="1.4"/>
<line x1="531.96" y1="440.4" x2="531.96" y2="443.2" stroke="#000" stroke-width="1.4"/>
<line x1="545.62" y1="440.4" x2="545.62" y2="443.2" stroke="#000" stroke-width="1.4"/>
<line x1="555.32" y1="440.4" x2="555.32" y2="443.2" stroke="#000" stroke-width="1.4"/>
<line x1="562.84" y1="440.4" x2="562.84" y2="443.2" stroke="#000" stroke-width="1.4"/>
<line x1="568.98" y1="440.4" x2="568.98" y2="443.2" stroke="#000" stroke-width="1.4"/>
<line x1="574.18" y1="440.4" x2="574.18" y2="443.2" stroke="#000" stroke-width="1.4"/>
<line x1="578.68" y1="440.4" x2="578.68" y2="443.2" stroke="#000" stroke-width="1.4"/>
<line x1="582.65" y1="440.4" x2="582.65" y2="443.2" stroke="#000" stroke-width="1.4"/>
<line x1="586.2" y1="440.4" x2="586.2" y2="444.7" stroke="#000" stroke-width="1.4"/>
<text x="431" y="459.2" text-anchor="middle" font-family='"Liberation Sans", sans-serif' font-weight="bold" font-size="12" fill="#111">0.1</text>
<text x="508.6" y="459.2" text-anchor="middle" font-family='"Liberation Sans", sans-serif' font-weight="bold" font-size="12" fill="#111">1</text>
<text x="586.2" y="459.2" text-anchor="middle" font-family='"Liberation Sans", sans-serif' font-weight="bold" font-size="12" fill="#111">10</text>
<text transform="translate(331.7,392.7) rotate(-90)" x="0" y="0" font-family='"Liberation Sans", sans-serif' font-weight="bold" font-size="14" fill="#111" textLength="42.2" lengthAdjust="spacing">% ATP</text>
<text x="360.4" y="479.4" font-family='"Liberation Sans", sans-serif' font-weight="bold" font-size="14" fill="#111" textLength="225.9" lengthAdjust="spacing">Compound [µM]/ digitonin [µg/mL]</text>
<line x1="366.2" y1="429.5" x2="589" y2="429.5" stroke="#000" stroke-width="1.4" stroke-dasharray="5 4.5"/>
<text x="388.5" y="422.7" font-family='"Liberation Sans", sans-serif' font-size="13" fill="#2a2a2a">IC<tspan font-size="9.5" dy="3.6">90</tspan></text>
<path d="M382 332.29L422.68 333.38L446.04 339.05L469.4 334.47L492.76 341.45L516.12 343.63L539.48 411.64L562.84 427.12L586.2 430.61" fill="none" stroke="#2a2a2a" stroke-width="1.0" clip-path="url(#cd)"/>
<path d="M382 331.2L422.68 335.89L446.04 322.15L469.4 331.2L492.76 331.85L516.12 382.65L539.48 436.82L562.84 437.37L586.2 438.56" fill="none" stroke="#2a2a2a" stroke-width="1.0" clip-path="url(#cd)"/>
<path d="M422.68 331.2V339.92M419.18 331.2H426.18M419.18 339.92H426.18" stroke="#222" stroke-width="1.15" fill="none"/>
<path d="M446.04 311.58V332.83M442.54 311.58H449.54M442.54 332.83H449.54" stroke="#222" stroke-width="1.15" fill="none"/>
<path d="M469.4 324.66V338.83M465.9 324.66H472.9M465.9 338.83H472.9" stroke="#222" stroke-width="1.15" fill="none"/>
<path d="M516.12 376.98V388.42M512.62 376.98H519.62M512.62 388.42H519.62" stroke="#222" stroke-width="1.15" fill="none"/>
<path d="M382 333.38L422.68 344.28L446.04 362.48L469.4 427.88L492.76 438.24L516.12 439.44L539.48 441.29L562.84 441.29L586.2 441.29" fill="none" stroke="#2a2a2a" stroke-width="1.0" clip-path="url(#cd)"/>
<path d="M382 331.2L422.68 329.89L446.04 331.31L469.4 327.17L492.76 320.74L516.12 315.94L539.48 337.09L562.84 329.89L586.2 355.62" fill="none" stroke="#2a2a2a" stroke-width="1.0" clip-path="url(#cd)"/>
<path d="M382 322.48V339.92M378.5 322.48H385.5M378.5 339.92H385.5" stroke="#222" stroke-width="1.15" fill="none"/>
<path d="M422.68 324.66V335.56M419.18 324.66H426.18M419.18 335.56H426.18" stroke="#222" stroke-width="1.15" fill="none"/>
<path d="M469.4 320.3V333.38M465.9 320.3H472.9M465.9 333.38H472.9" stroke="#222" stroke-width="1.15" fill="none"/>
<path d="M492.76 312.67V329.02M489.26 312.67H496.26M489.26 329.02H496.26" stroke="#222" stroke-width="1.15" fill="none"/>
<path d="M516.12 307.22V324.12M512.62 307.22H519.62M512.62 324.12H519.62" stroke="#222" stroke-width="1.15" fill="none"/>
<path d="M539.48 330.11V343.19M535.98 330.11H542.98M535.98 343.19H542.98" stroke="#222" stroke-width="1.15" fill="none"/>
<path d="M562.84 319.21V339.92M559.34 319.21H566.34M559.34 339.92H566.34" stroke="#222" stroke-width="1.15" fill="none"/>
<path d="M378 335.99L386 335.99L382 328.49Z" fill="#999" stroke="#222" stroke-width="1.0" stroke-linejoin="miter"/>
<path d="M418.68 337.08L426.68 337.08L422.68 329.58Z" fill="#999" stroke="#222" stroke-width="1.0" stroke-linejoin="miter"/>
<path d="M442.04 342.75L450.04 342.75L446.04 335.25Z" fill="#999" stroke="#222" stroke-width="1.0" stroke-linejoin="miter"/>
<path d="M465.4 338.17L473.4 338.17L469.4 330.67Z" fill="#999" stroke="#222" stroke-width="1.0" stroke-linejoin="miter"/>
<path d="M488.76 345.15L496.76 345.15L492.76 337.65Z" fill="#999" stroke="#222" stroke-width="1.0" stroke-linejoin="miter"/>
<path d="M512.12 347.33L520.12 347.33L516.12 339.83Z" fill="#999" stroke="#222" stroke-width="1.0" stroke-linejoin="miter"/>
<path d="M535.48 415.34L543.48 415.34L539.48 407.84Z" fill="#999" stroke="#222" stroke-width="1.0" stroke-linejoin="miter"/>
<path d="M558.84 430.82L566.84 430.82L562.84 423.32Z" fill="#999" stroke="#222" stroke-width="1.0" stroke-linejoin="miter"/>
<path d="M582.2 434.31L590.2 434.31L586.2 426.81Z" fill="#999" stroke="#222" stroke-width="1.0" stroke-linejoin="miter"/>
<path d="M382 329.58L386 333.38L382 337.18L378 333.38Z" fill="#999" stroke="#222" stroke-width="1.0"/>
<path d="M422.68 340.48L426.68 344.28L422.68 348.08L418.68 344.28Z" fill="#999" stroke="#222" stroke-width="1.0"/>
<path d="M446.04 358.68L450.04 362.48L446.04 366.28L442.04 362.48Z" fill="#999" stroke="#222" stroke-width="1.0"/>
<path d="M469.4 424.08L473.4 427.88L469.4 431.68L465.4 427.88Z" fill="#999" stroke="#222" stroke-width="1.0"/>
<path d="M492.76 434.44L496.76 438.24L492.76 442.04L488.76 438.24Z" fill="#999" stroke="#222" stroke-width="1.0"/>
<path d="M516.12 435.64L520.12 439.44L516.12 443.24L512.12 439.44Z" fill="#999" stroke="#222" stroke-width="1.0"/>
<path d="M539.48 437.49L543.48 441.29L539.48 445.09L535.48 441.29Z" fill="#999" stroke="#222" stroke-width="1.0"/>
<path d="M562.84 437.49L566.84 441.29L562.84 445.09L558.84 441.29Z" fill="#999" stroke="#222" stroke-width="1.0"/>
<path d="M586.2 437.49L590.2 441.29L586.2 445.09L582.2 441.29Z" fill="#999" stroke="#222" stroke-width="1.0"/>
<rect x="378.3" y="327.5" width="7.4" height="7.4" fill="#a2a2a2" stroke="#222" stroke-width="1.0"/>
<rect x="418.98" y="332.19" width="7.4" height="7.4" fill="#a2a2a2" stroke="#222" stroke-width="1.0"/>
<rect x="442.34" y="318.45" width="7.4" height="7.4" fill="#a2a2a2" stroke="#222" stroke-width="1.0"/>
<rect x="465.7" y="327.5" width="7.4" height="7.4" fill="#a2a2a2" stroke="#222" stroke-width="1.0"/>
<rect x="489.06" y="328.15" width="7.4" height="7.4" fill="#a2a2a2" stroke="#222" stroke-width="1.0"/>
<rect x="512.42" y="378.95" width="7.4" height="7.4" fill="#a2a2a2" stroke="#222" stroke-width="1.0"/>
<rect x="535.78" y="433.12" width="7.4" height="7.4" fill="#a2a2a2" stroke="#222" stroke-width="1.0"/>
<rect x="559.14" y="433.67" width="7.4" height="7.4" fill="#a2a2a2" stroke="#222" stroke-width="1.0"/>
<rect x="582.5" y="434.87" width="7.4" height="7.4" fill="#a2a2a2" stroke="#222" stroke-width="1.0"/>
<circle cx="382" cy="331.2" r="3.9" fill="#4b97ee" stroke="#222" stroke-width="1.0"/>
<circle cx="422.68" cy="329.89" r="3.9" fill="#4b97ee" stroke="#222" stroke-width="1.0"/>
<circle cx="446.04" cy="331.31" r="3.9" fill="#4b97ee" stroke="#222" stroke-width="1.0"/>
<circle cx="469.4" cy="327.17" r="3.9" fill="#4b97ee" stroke="#222" stroke-width="1.0"/>
<circle cx="492.76" cy="320.74" r="3.9" fill="#4b97ee" stroke="#222" stroke-width="1.0"/>
<circle cx="516.12" cy="315.94" r="3.9" fill="#4b97ee" stroke="#222" stroke-width="1.0"/>
<circle cx="539.48" cy="337.09" r="3.9" fill="#4b97ee" stroke="#222" stroke-width="1.0"/>
<circle cx="562.84" cy="329.89" r="3.9" fill="#4b97ee" stroke="#222" stroke-width="1.0"/>
<circle cx="586.2" cy="355.62" r="3.9" fill="#4b97ee" stroke="#222" stroke-width="1.0"/>
<line x1="393.5" y1="262.6" x2="409.5" y2="262.6" stroke="#333" stroke-width="1"/>
<circle cx="401.5" cy="262.6" r="3.9" fill="#4b97ee" stroke="#222" stroke-width="1.0"/>
<text x="418.9" y="266.9" font-family='"Liberation Sans", sans-serif' font-size="12" fill="#222">APT-6K</text>
<line x1="393.5" y1="282.2" x2="409.5" y2="282.2" stroke="#333" stroke-width="1"/>
<path d="M397.5 285.9L405.5 285.9L401.5 278.4Z" fill="#999" stroke="#222" stroke-width="1.0" stroke-linejoin="miter"/>
<text x="418.9" y="286.5" font-family='"Liberation Sans", sans-serif' font-size="12" fill="#222">GTSM</text>
<line x1="468.1" y1="262.6" x2="484.1" y2="262.6" stroke="#333" stroke-width="1"/>
<rect x="472.4" y="258.9" width="7.4" height="7.4" fill="#a2a2a2" stroke="#222" stroke-width="1.0"/>
<text x="492.6" y="266.9" font-family='"Liberation Sans", sans-serif' font-size="12" fill="#222">CCCP</text>
<line x1="468.1" y1="282.2" x2="484.1" y2="282.2" stroke="#333" stroke-width="1"/>
<path d="M476.1 278.4L480.1 282.2L476.1 286L472.1 282.2Z" fill="#999" stroke="#222" stroke-width="1.0"/>
<text x="492.6" y="286.5" font-family='"Liberation Sans", sans-serif' font-size="12" fill="#222">Digitonin</text>
</svg></body></html>
